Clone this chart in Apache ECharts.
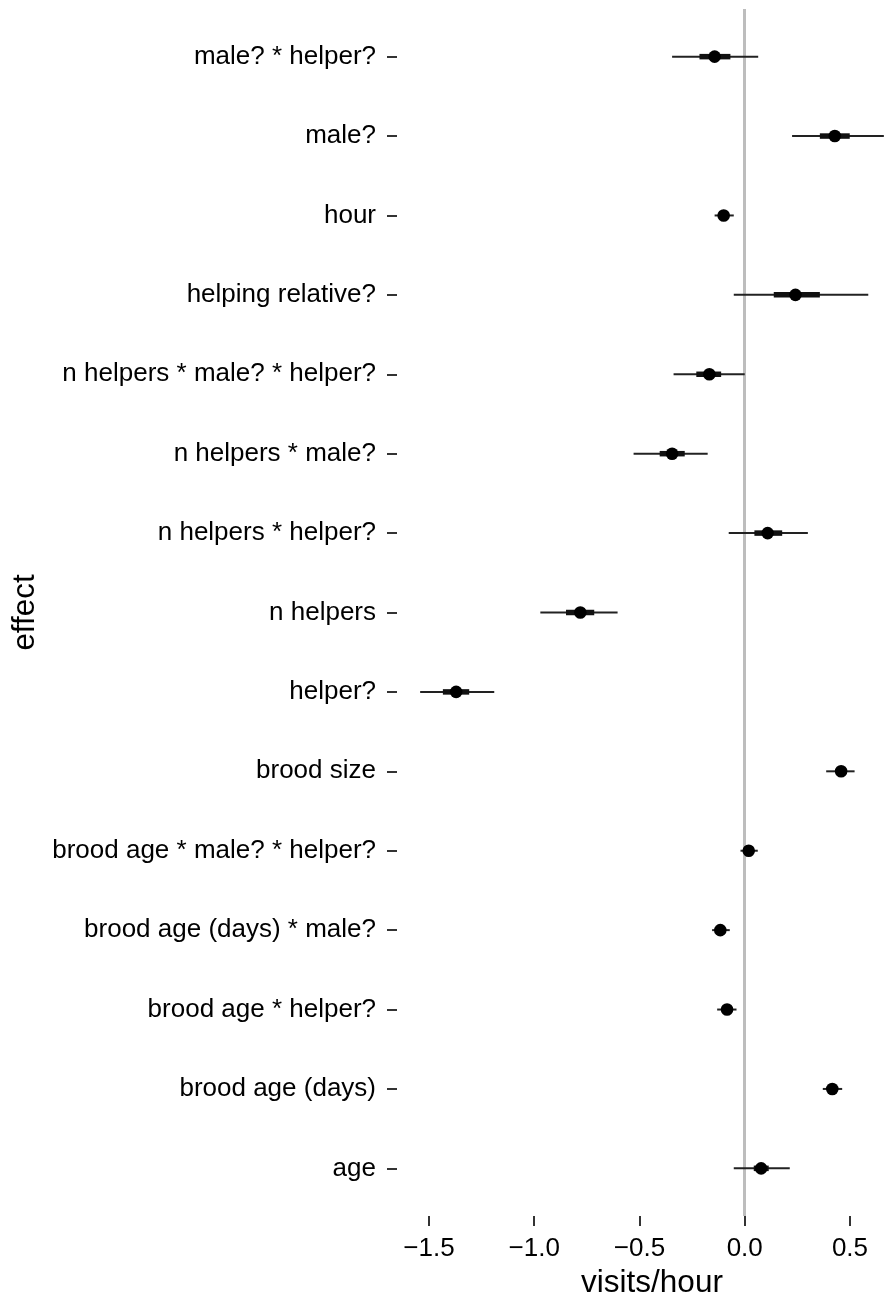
<!DOCTYPE html>
<html>
<head>
<meta charset="utf-8">
<script src="https://cdn.jsdelivr.net/npm/echarts@6/dist/echarts.min.js"></script>
<style>
html,body{margin:0;padding:0;background:#fff;overflow:hidden;width:884px;height:1298px;}
#chart{width:907px;height:1298px;}
</style>
</head>
<body>
<div id="chart"></div>
<script>
// Categories listed bottom to top
const categories = ["age","brood age (days)","brood age * helper?","brood age (days) * male?","brood age * male? * helper?","brood size","helper?","n helpers","n helpers * helper?","n helpers * male?","n helpers * male? * helper?","helping relative?","hour","male?","male? * helper?"];
const estimate = [0.078, 0.416, -0.084, -0.116, 0.019, 0.458, -1.371, -0.781, 0.109, -0.345, -0.168, 0.241, -0.100, 0.428, -0.143];
const outerLow  = [-0.052, 0.371, -0.131, -0.155, -0.020, 0.387, -1.542, -0.971, -0.076, -0.528, -0.338, -0.052, -0.143, 0.225, -0.345];
const outerHigh = [0.214, 0.463, -0.039, -0.071, 0.062, 0.522, -1.190, -0.604, 0.300, -0.176, 0.000, 0.587, -0.052, 0.661, 0.064];
const innerLow  = [0.043, 0.400, -0.100, -0.130, 0.005, 0.435, -1.434, -0.849, 0.046, -0.404, -0.230, 0.138, -0.115, 0.357, -0.215];
const innerHigh = [0.114, 0.432, -0.068, -0.102, 0.033, 0.481, -1.309, -0.715, 0.178, -0.285, -0.112, 0.357, -0.085, 0.499, -0.068];
const xTicks = [-1.5, -1.0, -0.5, 0.0, 0.5];

const rows = categories.map((c, i) => [i, estimate[i], outerLow[i], outerHigh[i], innerLow[i], innerHigh[i]]);
const catIndex = categories.map((c, i) => i);

const chart = echarts.init(document.getElementById('chart'), null, {renderer: 'canvas', width: 907, height: 1298});
const FONT = '"Liberation Sans", Arial, Helvetica, sans-serif';

chart.setOption({
  animation: false,
  backgroundColor: '#ffffff',
  grid: {left: 397, right: 0, top: 9, bottom: 82, containLabel: false, outerBoundsMode: 'none'},
  xAxis: {
    type: 'value',
    min: -1.652, max: 0.771,
    name: 'visits/hour',
    nameLocation: 'middle',
    nameGap: 42,
    nameTextStyle: {fontFamily: FONT, fontSize: 31.5, color: '#000'},
    axisLine: {show: false, onZero: false},
    splitLine: {show: false},
    axisTick: {show: true, length: 10, customValues: xTicks, lineStyle: {color: '#333', width: 2}},
    axisLabel: {
      customValues: xTicks,
      margin: 20,
      fontFamily: FONT, fontSize: 26, color: '#000',
      formatter: v => (v < 0 ? '\u2212' : '') + Math.abs(v).toFixed(1)
    }
  },
  yAxis: {
    type: 'value',
    min: -0.6, max: 14.6,
    name: 'effect',
    nameLocation: 'middle',
    nameRotate: 90,
    nameGap: 356,
    nameTextStyle: {fontFamily: FONT, fontSize: 31.4, color: '#000'},
    axisLine: {show: false, onZero: false},
    splitLine: {show: false},
    axisTick: {show: true, length: 10, customValues: catIndex, lineStyle: {color: '#333', width: 2}},
    axisLabel: {
      customValues: catIndex,
      margin: 21,
      fontFamily: FONT, fontSize: 26, color: '#000',
      formatter: v => categories[Math.round(v)]
    }
  },
  series: [
    {
      type: 'line', data: [], z: 1, silent: true,
      markLine: {
        silent: true, symbol: 'none', label: {show: false},
        lineStyle: {color: '#bdbdbd', width: 3, type: 'solid'},
        data: [{xAxis: 0}]
      }
    },
    {
      type: 'custom',
      z: 5,
      data: rows,
      encode: {x: [1, 2, 3, 4, 5], y: 0},
      renderItem: function (params, api) {
        const y = api.value(0);
        const pEst = api.coord([api.value(1), y]);
        const pOL = api.coord([api.value(2), y]);
        const pOH = api.coord([api.value(3), y]);
        const pIL = api.coord([api.value(4), y]);
        const pIH = api.coord([api.value(5), y]);
        return {
          type: 'group',
          children: [
            {type: 'line', shape: {x1: pOL[0], y1: pOL[1], x2: pOH[0], y2: pOH[1]}, style: {stroke: '#222', lineWidth: 2}},
            {type: 'line', shape: {x1: pIL[0], y1: pIL[1], x2: pIH[0], y2: pIH[1]}, style: {stroke: '#111', lineWidth: 5.5}},
            {type: 'circle', shape: {cx: pEst[0], cy: pEst[1], r: 6.3}, style: {fill: '#000'}}
          ]
        };
      }
    }
  ]
});
</script>
</body>
</html>
